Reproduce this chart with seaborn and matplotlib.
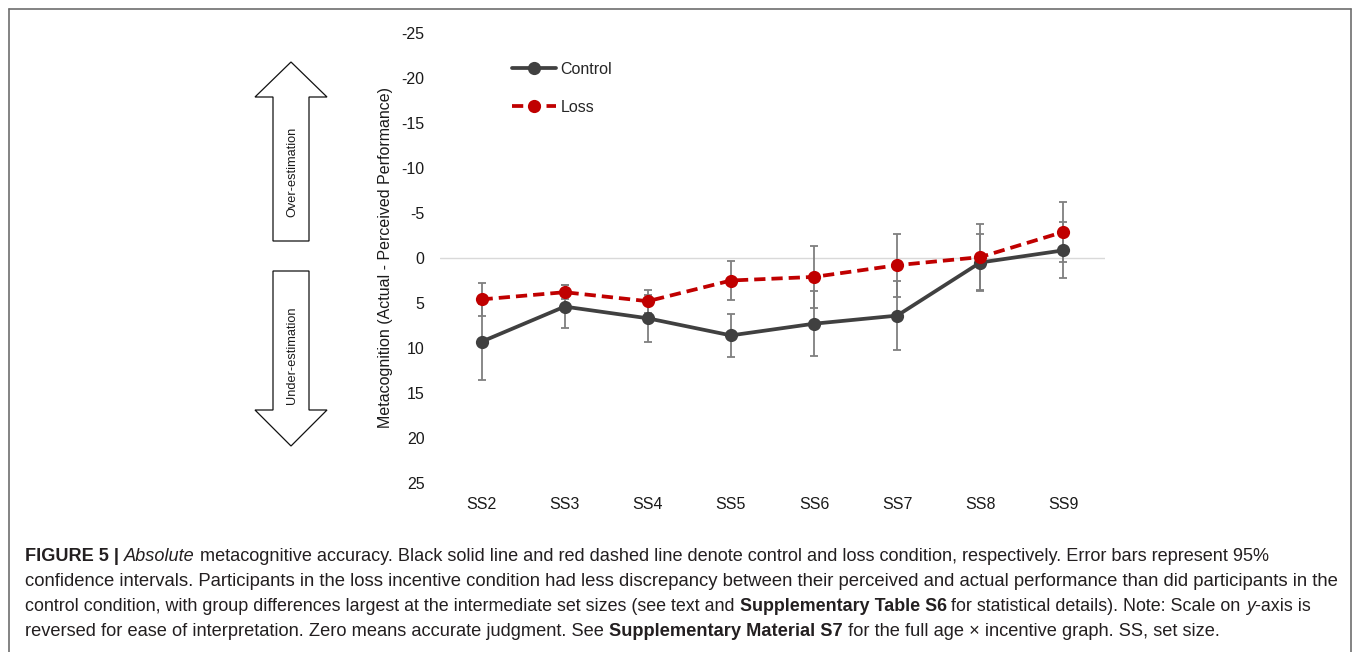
import numpy as np
import pandas as pd
import matplotlib
matplotlib.use("Agg")
import matplotlib.pyplot as plt
import seaborn as sns
from matplotlib.patches import Polygon
from matplotlib.lines import Line2D

# ---------------- data ----------------
set_sizes = ["SS2", "SS3", "SS4", "SS5", "SS6", "SS7", "SS8", "SS9"]
control_mean = [9.3, 5.4, 6.7, 8.6, 7.3, 6.4, 0.5, -0.85]
control_ci = [4.2, 2.4, 2.6, 2.4, 3.6, 3.8, 3.2, 3.1]
loss_mean = [4.6, 3.8, 4.8, 2.5, 2.1, 0.8, -0.1, -2.9]
loss_ci = [1.8, 0.8, 1.3, 2.2, 3.4, 3.5, 3.7, 3.3]
conditions = ["Control", "Loss"]
y_ticks = list(range(-25, 30, 5))
y_label = "Metacognition (Actual - Perceived Performance)"
arrow_labels = ["Over-estimation", "Under-estimation"]

caption_lines = [
    [("FIGURE 5 | ", "bold", "normal"), ("Absolute", "normal", "italic"),
     (" metacognitive accuracy. Black solid line and red dashed line denote control and loss condition, respectively. Error bars represent 95%", "normal", "normal")],
    [("confidence intervals. Participants in the loss incentive condition had less discrepancy between their perceived and actual performance than did participants in the", "normal", "normal")],
    [("control condition, with group differences largest at the intermediate set sizes (see text and ", "normal", "normal"),
     ("Supplementary Table S6", "bold", "normal"),
     (" for statistical details). Note: Scale on ", "normal", "normal"),
     ("y", "normal", "italic"), ("-axis is", "normal", "normal")],
    [("reversed for ease of interpretation. Zero means accurate judgment. See ", "normal", "normal"),
     ("Supplementary Material S7", "bold", "normal"),
     (" for the full age \u00d7 incentive graph. SS, set size.", "normal", "normal")],
]

# ---------------- style ----------------
sns.set_style("white")
FAM = ["Liberation Sans", "DejaVu Sans"]
plt.rcParams["font.family"] = FAM
plt.rcParams["axes.unicode_minus"] = False
CAP_FAM = FAM

W, H = 1357, 652
fig = plt.figure(figsize=(W / 100, H / 100), dpi=100)
fig.patch.set_facecolor("white")


def fx(x):
    return x / W


def fy(y):
    return 1 - y / H


ax = fig.add_axes([fx(440), fy(483), fx(1105) - fx(440), fy(33) - fy(483)])

df = pd.DataFrame({
    "Set size": set_sizes * 2,
    "value": control_mean + loss_mean,
    "Condition": [conditions[0]] * len(set_sizes) + [conditions[1]] * len(set_sizes),
})

palette = {"Control": "#404040", "Loss": "#C00000"}
xpos = np.arange(len(set_sizes))

ax.errorbar(xpos, control_mean, yerr=control_ci, fmt="none", ecolor="#7f7f7f",
            elinewidth=1.3, capsize=3.2, capthick=1.3, zorder=2)
ax.errorbar(xpos, loss_mean, yerr=loss_ci, fmt="none", ecolor="#7f7f7f",
            elinewidth=1.3, capsize=3.2, capthick=1.3, zorder=2)

sns.lineplot(data=df, x="Set size", y="value", hue="Condition", style="Condition",
             palette=palette, dashes={"Control": "", "Loss": (3, 1.6)},
             markers={"Control": "o", "Loss": "o"}, linewidth=2.7, markersize=9.5,
             markeredgewidth=0, sort=False, ax=ax, zorder=3)

ax.axhline(0, color="#d9d9d9", lw=1.0, zorder=1)
ax.set_xlim(-0.5, len(set_sizes) - 0.5)
ax.set_ylim(25, -25)
ax.set_yticks(y_ticks)
ax.set_yticklabels([str(t) for t in y_ticks])
ax.set_xticks(xpos)
ax.set_xticklabels(set_sizes)
ax.tick_params(axis="both", length=0, labelsize=11.5, colors="#1a1a1a")
ax.tick_params(axis="y", pad=11)
ax.tick_params(axis="x", pad=10)
for s in ax.spines.values():
    s.set_visible(False)
ax.set_xlabel("")
ax.set_ylabel(y_label, fontsize=11.5, color="#1a1a1a")
ax.yaxis.set_label_coords((393 - 440) / 665, 0.5)
ax.set_facecolor("none")

sns.move_legend(ax, "upper left", bbox_to_anchor=(fx(512), fy(62)),
                bbox_transform=fig.transFigure, frameon=False, title=None,
                handlelength=2.75, labelspacing=1.42, fontsize=11.5,
                handletextpad=0.3, borderpad=0, borderaxespad=0)

# ---------------- arrows ----------------
up = [(291, 62), (327, 97), (309, 97), (309, 241), (273, 241), (273, 97), (255, 97)]
down = [(273, 271), (309, 271), (309, 410), (327, 410), (291, 446), (255, 410), (273, 410)]
for pts in (up, down):
    fig.add_artist(Polygon([(fx(a), fy(b)) for a, b in pts], closed=True,
                           transform=fig.transFigure, facecolor="white",
                           edgecolor="#111111", lw=0.9))
fig.text(fx(292), fy(172), arrow_labels[0], rotation=90, ha="center", va="center",
         fontsize=9.2, color="#1a1a1a")
fig.text(fx(292), fy(355), arrow_labels[1], rotation=90, ha="center", va="center",
         fontsize=9.2, color="#1a1a1a")

# ---------------- border ----------------
bc = "#6e6e6e"
fig.add_artist(Line2D([fx(8.5), fx(8.5)], [fy(8.5), fy(660)], color=bc, lw=1.2,
                      transform=fig.transFigure))
fig.add_artist(Line2D([fx(8.5), fx(1351)], [fy(8.5), fy(8.5)], color=bc, lw=1.2,
                      transform=fig.transFigure))
fig.add_artist(Line2D([fx(1351), fx(1351)], [fy(8.5), fy(660)], color=bc, lw=1.2,
                      transform=fig.transFigure))

# ---------------- caption ----------------
renderer = fig.canvas.get_renderer()


def piece_width(txt, size, weight, style):
    t1 = fig.text(0, 0, txt + "|", fontsize=size, fontweight=weight, fontstyle=style, family=CAP_FAM)
    t2 = fig.text(0, 0, "|", fontsize=size, fontweight=weight, fontstyle=style, family=CAP_FAM)
    w = t1.get_window_extent(renderer).width - t2.get_window_extent(renderer).width
    t1.remove()
    t2.remove()
    return w


def line_width(pieces, size):
    return sum(piece_width(t, size, w, s) for t, w, s in pieces)


base = 11.0
line_ends = [1265, 1335, 1303, 1218]
baselines = [561, 586, 611, 636]
for pieces, yb, xe in zip(caption_lines, baselines, line_ends):
    size = base * (xe - 25) / line_width(pieces, base)
    x = 25
    for txt, weight, style in pieces:
        fig.text(fx(x), fy(yb), txt, fontsize=size, fontweight=weight, fontstyle=style,
                 family=CAP_FAM, va="baseline", ha="left", color="#231f20")
        x += piece_width(txt, size, weight, style)

fig.savefig("out.png", dpi=100, facecolor="white")
